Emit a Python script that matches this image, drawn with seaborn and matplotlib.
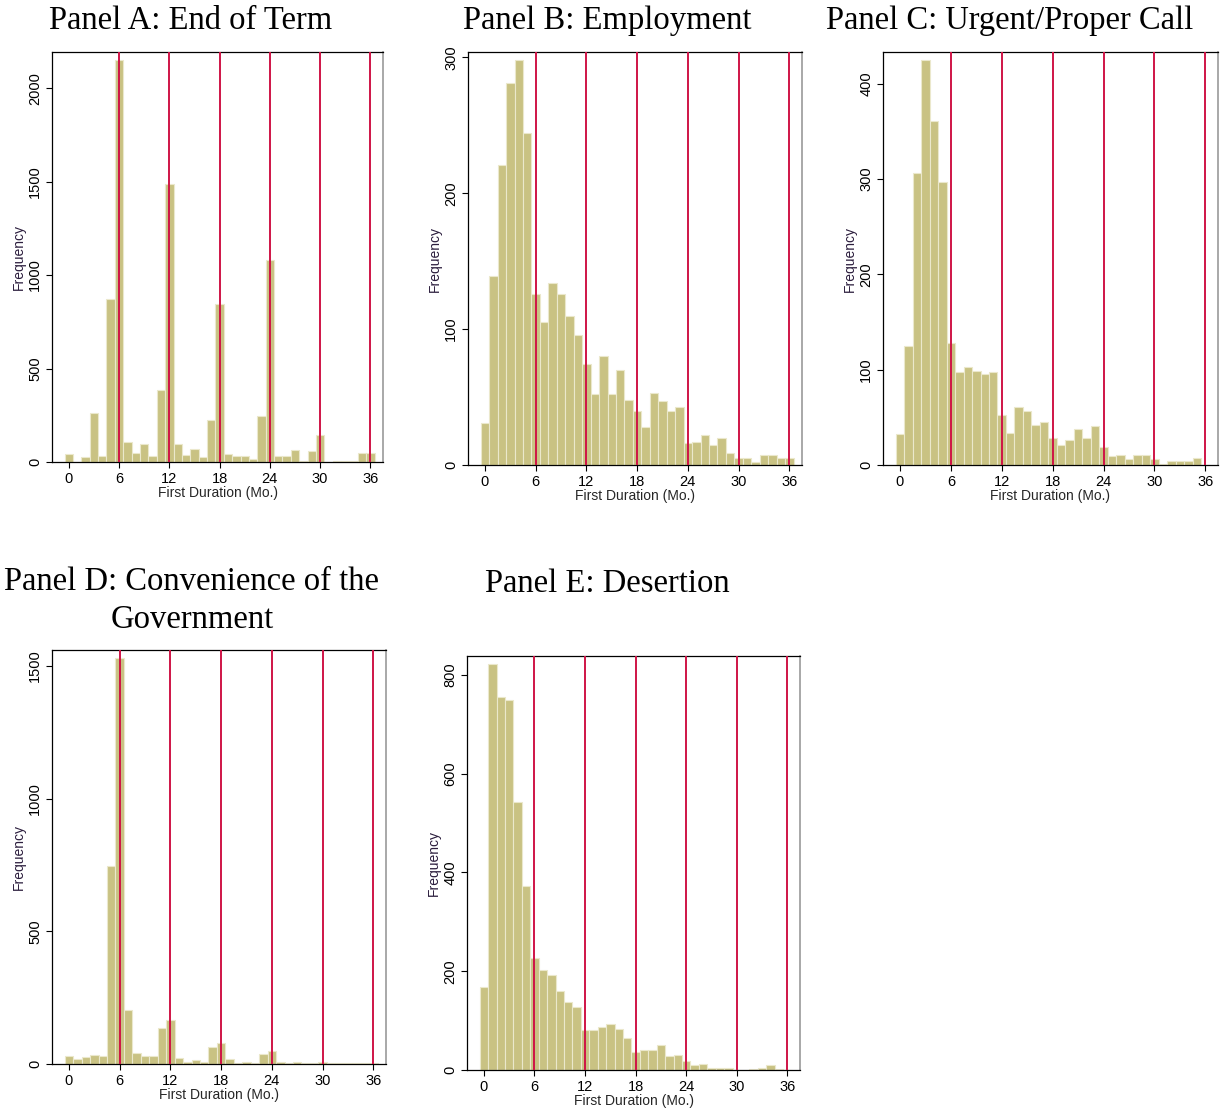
import numpy as np
import pandas as pd
import matplotlib
matplotlib.use("Agg")
import matplotlib.pyplot as plt
import seaborn as sns

# months 0..36, one bin per month
months = list(range(37))

end_of_term = [45, 0, 27, 262, 30, 870, 2150, 105, 50, 95, 34, 383, 1488, 98, 37, 71,
               27, 223, 843, 45, 32, 32, 16, 248, 1082, 30, 30, 62, 5, 59, 143, 0,
               4, 4, 6, 48, 48]
employment = [31, 139, 221, 281, 298, 244, 126, 105, 134, 126, 110, 96, 74, 52, 80, 52,
              70, 48, 40, 28, 53, 47, 40, 43, 16, 17, 22, 15, 20, 9, 5, 5,
              2, 7, 7, 5, 5]
urgent_call = [33, 125, 306, 425, 361, 297, 128, 98, 103, 99, 95, 98, 52, 34, 61, 57,
               42, 45, 28, 21, 26, 38, 28, 41, 19, 9, 10, 6, 11, 11, 6, 1,
               4, 4, 4, 7, 0]
convenience = [31, 19, 25, 34, 31, 746, 1530, 203, 41, 31, 31, 135, 167, 21, 9, 14,
               9, 65, 78, 19, 3, 9, 5, 39, 48, 6, 3, 6, 2, 4, 6, 2,
               2, 2, 3, 2, 2]
desertion = [169, 822, 755, 749, 542, 373, 226, 203, 192, 159, 137, 128, 80, 80, 88, 93,
             84, 65, 36, 41, 41, 51, 28, 31, 18, 11, 13, 5, 5, 5, 1, 0,
             3, 5, 10, 3, 0]

ref_lines = [6, 12, 18, 24, 30, 36]
xticks = [0, 6, 12, 18, 24, 30, 36]

W, H = 1227, 1112
sns.set_style("white")
plt.rcParams['font.family'] = ['Liberation Sans', 'DejaVu Sans']
plt.rcParams['text.color'] = 'black'

fig = plt.figure(figsize=(W / 100, H / 100), dpi=100)

bar_color = '#c9c283'
line_color = '#cf1446'
label_color = '#2b1d3d'


def panel(box, counts, yticks):
    l, t, r, b = box
    ax = fig.add_axes([l / W, 1 - b / H, (r - l) / W, (b - t) / H])
    df = pd.DataFrame({'month': months, 'count': counts})
    sns.histplot(data=df, x='month', weights='count', discrete=True,
                 color=bar_color, alpha=1, edgecolor='#ebe8cc', linewidth=0.8, ax=ax)
    for v in ref_lines:
        ax.axvline(v, color=line_color, lw=1.4, zorder=3)
    ax.set_xlim(-2, 37.5)
    ax.set_ylim(0, max(counts) * 1.02)
    ax.set_xticks(xticks)
    ax.set_yticks(yticks)
    ax.tick_params(axis='both', labelsize=10.5, length=4, width=0.8, direction='out',
                   bottom=True, left=True, pad=3, colors='black')
    plt.setp(ax.get_yticklabels(), rotation=90, va='center')
    ax.set_xlabel("First Duration (Mo.)", fontsize=10, labelpad=0)
    ax.set_ylabel("Frequency", fontsize=10, color=label_color, labelpad=2)
    for s in ['left', 'bottom', 'top']:
        ax.spines[s].set_color('black')
        ax.spines[s].set_linewidth(0.9)
    ax.spines['right'].set_color('#999999')
    ax.spines['right'].set_linewidth(1.2)
    return ax


panel((52, 52, 383, 462), end_of_term, [0, 500, 1000, 1500, 2000])
panel((468, 52, 802, 465), employment, [0, 100, 200, 300])
panel((883, 52, 1218, 465), urgent_call, [0, 100, 200, 300, 400])
panel((52, 650, 386, 1064), convenience, [0, 500, 1000, 1500])
panel((467, 656, 800, 1070), desertion, [0, 200, 400, 600, 800])

title_kw = dict(fontsize=23.5, family=['Liberation Serif', 'DejaVu Serif'],
                color='black', ha='center', va='center')
fig.text(191 / W, 1 - 21 / H, "Panel A: End of Term", **title_kw)
fig.text(607 / W, 1 - 21 / H, "Panel B: Employment", **title_kw)
fig.text(1010 / W, 1 - 21 / H, "Panel C: Urgent/Proper Call", **title_kw)
fig.text(192 / W, 1 - 601 / H, "Panel D: Convenience of the\nGovernment",
         linespacing=1.3, **title_kw)
fig.text(607 / W, 1 - 584 / H, "Panel E: Desertion", **title_kw)

fig.savefig("out.png", dpi=100, facecolor='white')
